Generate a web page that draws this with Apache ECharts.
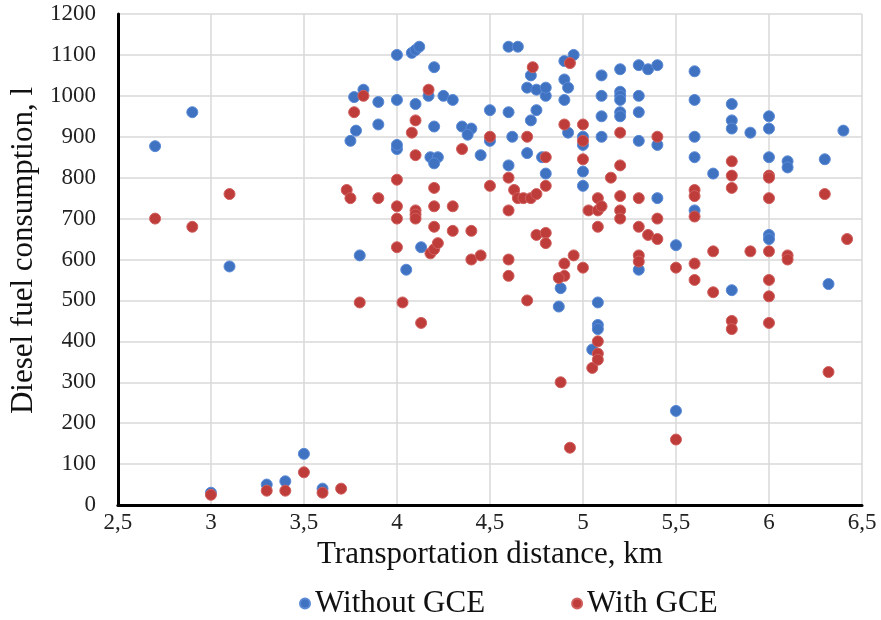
<!DOCTYPE html>
<html>
<head>
<meta charset="utf-8">
<script src="https://cdn.jsdelivr.net/npm/echarts@6/dist/echarts.min.js"></script>
<style>html,body{margin:0;padding:0;background:#fff}#c{width:881px;height:620px}</style>
</head>
<body>
<div id="c"></div>
<script>
const seriesNames = ['Without GCE', 'With GCE'];
const xTicks = [2.5, 3, 3.5, 4, 4.5, 5, 5.5, 6, 6.5];
const yTicks = [0, 100, 200, 300, 400, 500, 600, 700, 800, 900, 1000, 1100, 1200];

const withoutGCE = [
  [2.7,877],[2.9,960],[3.1,583],[3.0,30],[3.3,50],[3.4,58],[3.5,125],[3.6,40],
  [3.75,890],[3.78,915],[3.77,997],[3.82,1015],[3.8,610],[3.9,930],[3.9,985],
  [4.0,990],[4.0,1100],[4.0,870],[4.0,880],[4.05,575],[4.08,1105],[4.1,1112],[4.12,1120],
  [4.1,980],[4.13,630],[4.17,1000],[4.2,1070],[4.2,925],[4.18,850],[4.22,850],[4.2,835],
  [4.25,1000],[4.3,990],[4.35,925],[4.4,920],[4.38,905],[4.45,855],[4.5,965],[4.5,890],
  [4.6,1120],[4.65,1120],[4.6,960],[4.6,830],[4.62,900],[4.7,1020],[4.75,1015],[4.72,1050],
  [4.8,1000],[4.8,1020],[4.72,940],[4.75,965],[4.7,860],[4.78,850],[4.8,810],
  [4.88,530],[4.87,485],[4.9,1085],[4.9,1040],[4.92,1020],[4.95,1100],[4.9,990],[4.92,910],
  [5.0,900],[5.0,880],[5.0,815],[5.0,780],[5.05,380],[5.08,495],[5.08,440],[5.08,430],
  [5.1,1050],[5.1,1000],[5.1,950],[5.1,900],
  [5.2,1065],[5.2,1010],[5.2,1000],[5.2,990],[5.2,960],[5.2,950],
  [5.3,1075],[5.3,1000],[5.3,960],[5.3,890],[5.3,575],[5.35,1065],[5.4,1075],
  [5.4,880],[5.4,750],[5.5,635],[5.5,230],
  [5.6,1060],[5.6,990],[5.6,900],[5.6,850],[5.6,720],[5.7,810],
  [5.8,980],[5.8,940],[5.8,920],[5.8,525],[5.9,910],
  [6.0,950],[6.0,920],[6.0,850],[6.0,660],[6.0,650],[6.1,840],[6.1,825],
  [6.3,845],[6.32,540],[6.4,915]
];

const withGCE = [
  [2.7,700],[2.9,680],[3.1,760],[3.0,25],[3.3,35],[3.4,35],[3.5,80],[3.6,30],[3.7,40],
  [3.73,770],[3.75,750],[3.77,960],[3.82,1000],[3.8,495],[3.9,750],
  [4.0,795],[4.0,730],[4.0,700],[4.0,630],[4.03,495],[4.08,910],
  [4.1,940],[4.1,855],[4.1,720],[4.1,710],[4.1,700],[4.13,445],[4.17,1015],
  [4.18,615],[4.2,625],[4.22,640],[4.2,680],[4.2,775],[4.2,730],
  [4.3,730],[4.3,670],[4.35,870],[4.4,670],[4.4,600],[4.45,610],
  [4.5,900],[4.5,780],[4.6,800],[4.6,720],[4.6,600],[4.6,560],
  [4.63,770],[4.65,750],[4.68,750],[4.72,750],[4.75,760],[4.7,900],[4.7,500],[4.73,1070],
  [4.75,660],[4.8,665],[4.8,640],[4.8,850],[4.8,780],[4.9,930],[4.88,300],
  [4.9,590],[4.9,560],[4.87,555],[4.93,1080],[4.93,140],[4.95,610],
  [5.0,930],[5.0,890],[5.0,845],[5.0,580],[5.03,720],[5.05,335],
  [5.08,750],[5.08,720],[5.08,680],[5.08,400],[5.08,370],[5.08,355],[5.1,730],[5.15,800],
  [5.2,910],[5.2,830],[5.2,755],[5.2,720],[5.2,700],
  [5.3,750],[5.3,680],[5.3,610],[5.3,595],[5.35,660],[5.4,900],[5.4,700],[5.4,650],
  [5.5,580],[5.5,160],[5.6,770],[5.6,755],[5.6,705],[5.6,590],[5.6,550],
  [5.7,620],[5.7,520],[5.8,840],[5.8,805],[5.8,775],[5.8,450],[5.8,430],[5.9,620],
  [6.0,805],[6.0,800],[6.0,750],[6.0,620],[6.0,550],[6.0,510],[6.0,445],
  [6.1,610],[6.1,600],[6.3,760],[6.32,325],[6.42,650]
];

const FONT = '"Liberation Serif", "DejaVu Serif", serif';
const chart = echarts.init(document.getElementById('c'), null, {renderer: 'canvas'});
chart.setOption({
  animation: false,
  backgroundColor: '#fff',
  grid: {left: 116, right: 19, top: 14, bottom: 115, containLabel: false},
  legend: {
    data: seriesNames,
    top: 583,
    left: 294,
    icon: 'circle',
    itemWidth: 10,
    itemHeight: 10,
    itemGap: 86,
    textStyle: {fontFamily: FONT, fontSize: 31, color: '#111'}
  },
  xAxis: {
    type: 'value',
    min: xTicks[0], max: xTicks[xTicks.length - 1], interval: 0.5,
    name: 'Transportation distance, km',
    nameLocation: 'middle',
    nameGap: 27,
    nameTextStyle: {fontFamily: FONT, fontSize: 31, color: '#111'},
    axisLine: {show: true, onZero: false, lineStyle: {color: '#000', width: 3}},
    axisTick: {show: false},
    axisLabel: {
      margin: 6, fontFamily: FONT, fontSize: 23, color: '#222',
      formatter: v => String(v).replace('.', ',')
    },
    splitLine: {show: true, lineStyle: {color: '#d9d9d9', width: 1.5}}
  },
  yAxis: {
    type: 'value',
    min: yTicks[0], max: yTicks[yTicks.length - 1], interval: 100,
    name: 'Diesel fuel consumption, l',
    nameLocation: 'middle',
    nameGap: 66,
    nameTextStyle: {fontFamily: FONT, fontSize: 31, color: '#111', padding: [0, 0, 0, 18]},
    axisLine: {show: true, lineStyle: {color: '#000', width: 3}},
    axisTick: {show: false},
    axisLabel: {margin: 22, fontFamily: FONT, fontSize: 23, color: '#222', formatter: v => String(v)},
    splitLine: {show: true, lineStyle: {color: '#d9d9d9', width: 1.5}}
  },
  series: [
    {
      name: seriesNames[0], type: 'scatter', data: withoutGCE, symbolSize: 11,
      itemStyle: {color: '#4072c2', borderColor: '#5a8ad6', borderWidth: 1, opacity: 1}
    },
    {
      name: seriesNames[1], type: 'scatter', data: withGCE, symbolSize: 11,
      itemStyle: {color: '#be3c3a', borderColor: '#d0605e', borderWidth: 1, opacity: 1}
    }
  ]
});
</script>
</body>
</html>
